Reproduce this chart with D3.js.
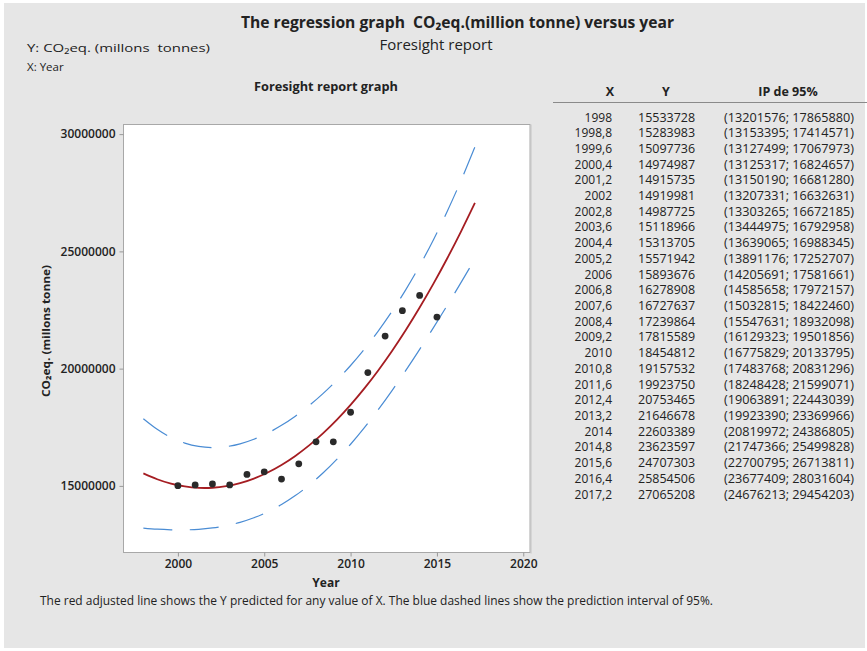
<!DOCTYPE html>
<html>
<head>
<meta charset="utf-8">
<script src="https://cdn.jsdelivr.net/npm/d3@7"></script>
<style>
  html, body { margin: 0; padding: 0; background: #ffffff; }
  svg { display: block; }
  text { font-family: "Open Sans", "Noto Sans", sans-serif; fill: #222; white-space: pre; }
</style>
</head>
<body>
<svg id="chart" width="867" height="651"></svg>
<script>
// ---- Data ----
const obsYears = [2000, 2001, 2002, 2003, 2004, 2005, 2006, 2007, 2008, 2009, 2010, 2011, 2012, 2013, 2014, 2015];
const obsValues = [15010000, 15040000, 15080000, 15040000, 15490000, 15600000, 15290000, 15940000, 16880000, 16880000, 18140000, 19830000, 21390000, 22470000, 23120000, 22200000];

const tableX = [1998, 1998.8, 1999.6, 2000.4, 2001.2, 2002, 2002.8, 2003.6, 2004.4, 2005.2, 2006, 2006.8, 2007.6, 2008.4, 2009.2, 2010, 2010.8, 2011.6, 2012.4, 2013.2, 2014, 2014.8, 2015.6, 2016.4, 2017.2];
const fitY = [15533728, 15283983, 15097736, 14974987, 14915735, 14919981, 14987725, 15118966, 15313705, 15571942, 15893676, 16278908, 16727637, 17239864, 17815589, 18454812, 19157532, 19923750, 20753465, 21646678, 22603389, 23623597, 24707303, 25854506, 27065208];
const piLow = [13201576, 13153395, 13127499, 13125317, 13150190, 13207331, 13303265, 13444975, 13639065, 13891176, 14205691, 14585658, 15032815, 15547631, 16129323, 16775829, 17483768, 18248428, 19063891, 19923390, 20819972, 21747366, 22700795, 23677409, 24676213];
const piHigh = [17865880, 17414571, 17067973, 16824657, 16681280, 16632631, 16672185, 16792958, 16988345, 17252707, 17581661, 17972157, 18422460, 18932098, 19501856, 20133795, 20831296, 21599071, 22443039, 23369966, 24386805, 25499828, 26713811, 28031604, 29454203];

const yTicks = [15000000, 20000000, 25000000, 30000000];
const xTicks = [2000, 2005, 2010, 2015, 2020];

// ---- Layout ----
const svg = d3.select("#chart");
const W = 867, H = 651;
const plot = { left: 123.5, top: 124.5, right: 530, bottom: 552.5 };

// background
svg.append("rect").attr("x", 0).attr("y", 0).attr("width", W).attr("height", H).attr("fill", "#ffffff");
svg.append("rect").attr("x", 4).attr("y", 3).attr("width", 861).attr("height", 645).attr("fill", "#e6e6e6");

const x = d3.scaleLinear().domain([1996.85, 2020.39]).range([plot.left, plot.right]);
const y = d3.scaleLinear().domain([12160000, 30410000]).range([plot.bottom, plot.top]);

// plot area
svg.append("rect")
  .attr("x", plot.left).attr("y", plot.top)
  .attr("width", plot.right - plot.left).attr("height", plot.bottom - plot.top)
  .attr("fill", "#ffffff").attr("stroke", "#a8a8a8").attr("stroke-width", 1);
svg.append("line").attr("x1", plot.right + 1).attr("x2", plot.right + 1)
  .attr("y1", plot.top).attr("y2", plot.bottom + 1).attr("stroke", "#c4c4c4");

// axes
const yAxis = d3.axisLeft(y).tickValues(yTicks).tickSize(4).tickPadding(4).tickFormat(d3.format("d"));
const xAxis = d3.axisBottom(x).tickValues(xTicks).tickSize(4).tickPadding(3).tickFormat(d3.format("d"));

const gy = svg.append("g").attr("transform", `translate(${plot.left},0)`).call(yAxis);
const gx = svg.append("g").attr("transform", `translate(0,${plot.bottom})`).call(xAxis);
[gy, gx].forEach(g => {
  g.select(".domain").remove();
  g.selectAll(".tick line").attr("stroke", "#999");
  g.selectAll(".tick text")
    .style("font-family", '"Open Sans", sans-serif')
    .style("font-size", "12px").style("font-weight", "600").attr("fill", "#333");
});

// lines
const lineGen = d3.line().x(d => x(d[0])).y(d => y(d[1])).curve(d3.curveNatural);

svg.append("path")
  .datum(tableX.map((t, i) => [t, piHigh[i]]))
  .attr("d", lineGen).attr("fill", "none").attr("stroke", "#4a8cd4")
  .attr("stroke-width", 1.2).attr("stroke-dasharray", "29,17.5");
svg.append("path")
  .datum(tableX.map((t, i) => [t, piLow[i]]))
  .attr("d", lineGen).attr("fill", "none").attr("stroke", "#4a8cd4")
  .attr("stroke-width", 1.2).attr("stroke-dasharray", "29,17.5");
svg.append("path")
  .datum(tableX.map((t, i) => [t, fitY[i]]))
  .attr("d", lineGen).attr("fill", "none").attr("stroke", "#a51d22")
  .attr("stroke-width", 1.8);

// points
svg.append("g").selectAll("circle")
  .data(obsYears.map((t, i) => [t, obsValues[i]]))
  .join("circle")
  .attr("cx", d => x(d[0])).attr("cy", d => y(d[1])).attr("r", 3.4)
  .attr("fill", "#2a2a2a");

// ---- Texts ----
svg.append("text").attr("x", 241).attr("y", 28)
  .attr("font-size", 16).attr("font-weight", "700").attr("fill", "#111")
  .attr("textLength", 433).attr("lengthAdjust", "spacingAndGlyphs")
  .text("The regression graph  CO\u2082eq.(million tonne) versus year");

svg.append("text").attr("x", 436).attr("y", 50).attr("text-anchor", "middle")
  .attr("font-size", 14).attr("fill", "#111").attr("textLength", 113).attr("lengthAdjust", "spacingAndGlyphs")
  .text("Foresight report");

svg.append("text").attr("x", 27).attr("y", 52).attr("font-size", 11.5).attr("fill", "#222")
  .attr("textLength", 183).attr("lengthAdjust", "spacingAndGlyphs")
  .text("Y: CO\u2082eq. (millons  tonnes)");

svg.append("text").attr("x", 27).attr("y", 71).attr("font-size", 11.5).attr("fill", "#222").text("X: Year");

svg.append("text").attr("x", 326).attr("y", 91).attr("text-anchor", "middle")
  .attr("font-size", 12).attr("font-weight", "700").attr("fill", "#222")
  .attr("textLength", 144).attr("lengthAdjust", "spacingAndGlyphs")
  .text("Foresight report graph");

// axis titles
svg.append("text").attr("x", 326).attr("y", 587).attr("text-anchor", "middle")
  .attr("font-size", 12).attr("font-weight", "700").attr("fill", "#222").text("Year");

svg.append("text").attr("transform", "translate(50,331) rotate(-90)")
  .attr("text-anchor", "middle").attr("font-size", 11).attr("font-weight", "700").attr("fill", "#222")
  .attr("textLength", 132).attr("lengthAdjust", "spacingAndGlyphs")
  .text("CO\u2082eq. (millons tonne)");

svg.append("text").attr("x", 40).attr("y", 605).attr("font-size", 12).attr("fill", "#222")
  .attr("textLength", 673).attr("lengthAdjust", "spacingAndGlyphs")
  .text("The red adjusted line shows the Y predicted for any value of X. The blue dashed lines show the prediction interval of 95%.");

// ---- Table ----
const tbl = svg.append("g");
const headY = 96;
tbl.append("text").attr("x", 610).attr("y", headY).attr("text-anchor", "middle")
  .attr("font-size", 12.5).attr("font-weight", "700").attr("fill", "#222").text("X");
tbl.append("text").attr("x", 666).attr("y", headY).attr("text-anchor", "middle")
  .attr("font-size", 12.5).attr("font-weight", "700").attr("fill", "#222").text("Y");
tbl.append("text").attr("x", 788).attr("y", headY).attr("text-anchor", "middle")
  .attr("font-size", 12.5).attr("font-weight", "700").attr("fill", "#222").text("IP de 95%");
tbl.append("line").attr("x1", 553).attr("x2", 867).attr("y1", 102.5).attr("y2", 102.5)
  .attr("stroke", "#8a8a8a").attr("stroke-width", 1);

const rowY = d3.scaleLinear().domain([0, tableX.length - 1]).range([121.5, 498.5]);
const fmtX = v => String(v).replace(".", ",");
tableX.forEach((t, i) => {
  const yy = rowY(i);
  tbl.append("text").attr("x", 612).attr("y", yy).attr("text-anchor", "end")
    .attr("font-size", 12).attr("fill", "#333").text(fmtX(t));
  tbl.append("text").attr("x", 695).attr("y", yy).attr("text-anchor", "end")
    .attr("font-size", 12).attr("fill", "#333").attr("textLength", 57).attr("lengthAdjust", "spacingAndGlyphs")
    .text(String(fitY[i]));
  tbl.append("text").attr("x", 854).attr("y", yy).attr("text-anchor", "end")
    .attr("font-size", 12).attr("fill", "#333").attr("textLength", 130).attr("lengthAdjust", "spacingAndGlyphs")
    .text(`(${piLow[i]}; ${piHigh[i]})`);
});
</script>
</body>
</html>
